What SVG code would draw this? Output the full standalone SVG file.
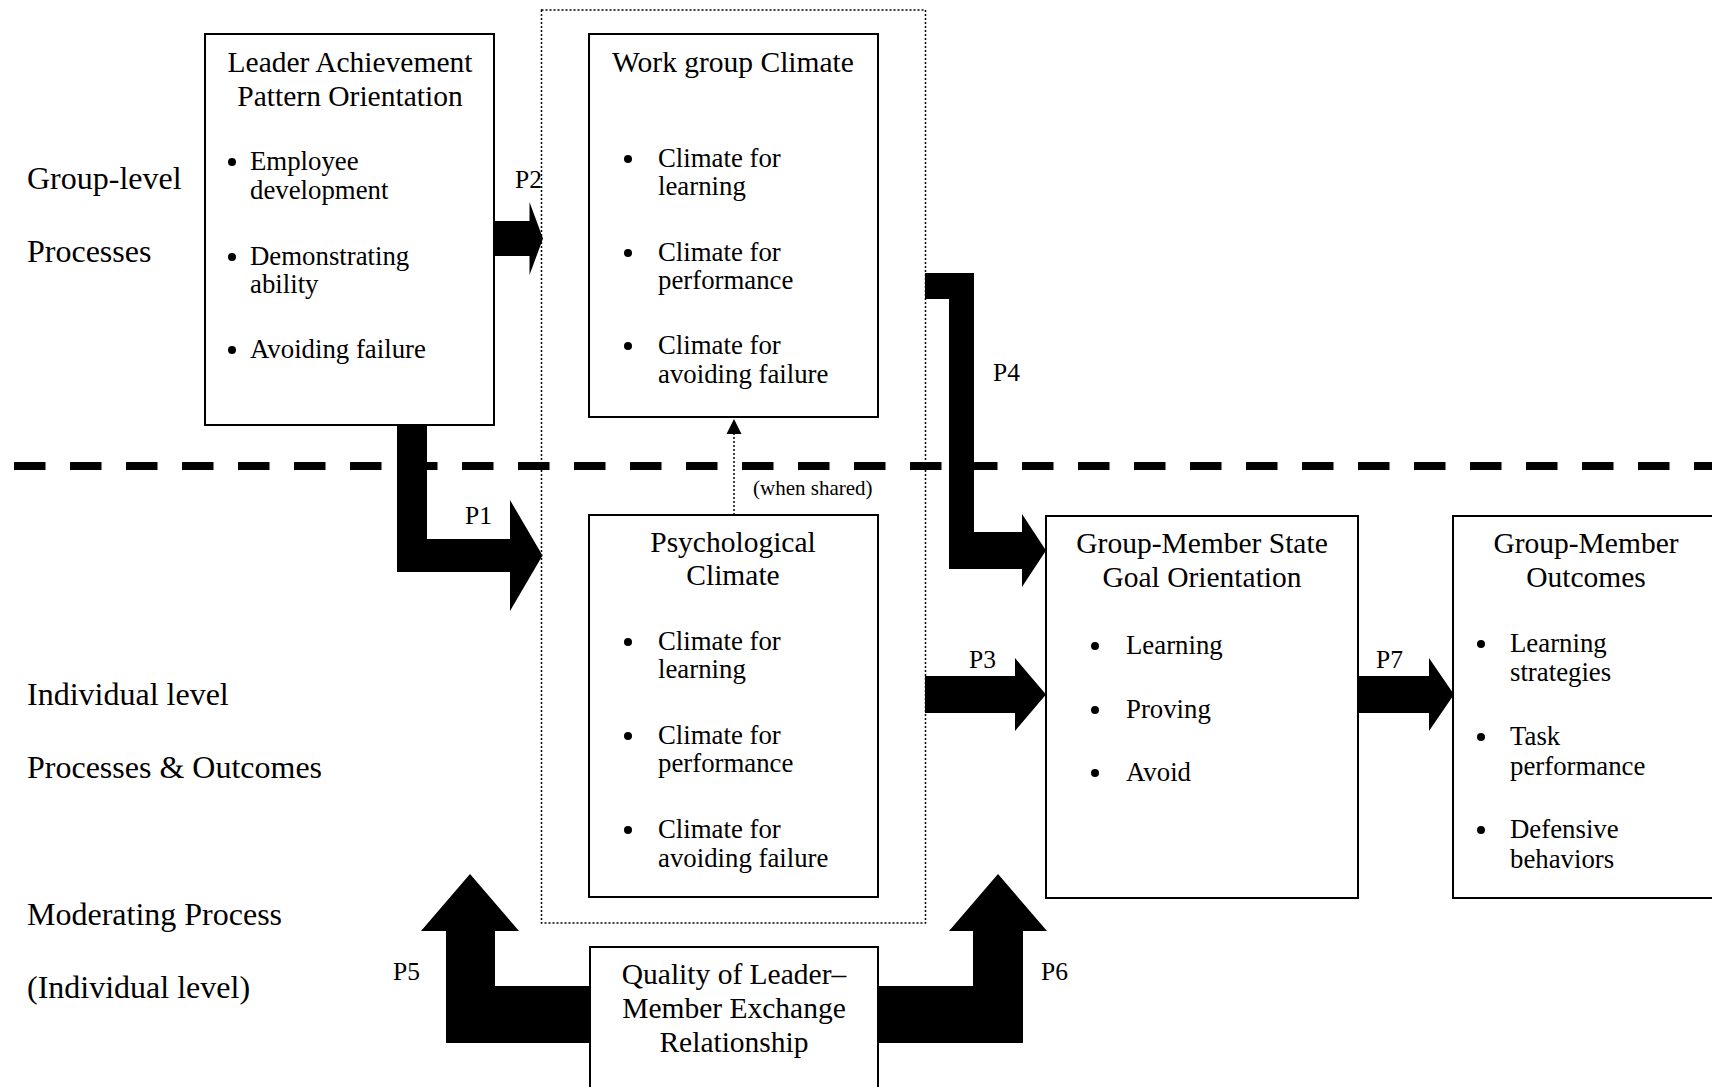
<svg xmlns="http://www.w3.org/2000/svg" width="1712" height="1087" viewBox="0 0 1712 1087">
<style>
text{font-family:"Liberation Serif","Times New Roman",serif;fill:#000}
.t{font-size:29.5px;text-anchor:middle}
.b{font-size:26.8px}
.side{font-size:32px}
.p{font-size:25.5px}
.box{fill:#fff;stroke:#000;stroke-width:2}
.arrow{fill:#000;stroke:none}
.dot{fill:#000}
</style>
<rect width="1712" height="1087" fill="#fff"/>
<g id="levels">
<rect x="541.5" y="10" width="384" height="913" fill="none" stroke="#000" stroke-width="1.5" stroke-dasharray="2 2"/>
<line x1="14" y1="466" x2="1712" y2="466" stroke="#000" stroke-width="8" stroke-dasharray="31.5 24.5"/>
<text class="side" x="27" y="189">Group-level</text>
<text class="side" x="27" y="262">Processes</text>
<text class="side" x="27" y="705">Individual level</text>
<text class="side" x="27" y="778">Processes &amp; Outcomes</text>
<text class="side" x="27" y="925">Moderating Process</text>
<text class="side" x="27" y="998">(Individual level)</text>
</g>
<g id="connectors">
<polygon class="arrow" points="494,221 529.5,221 529.5,202 543,238.5 529.5,275 529.5,256 494,256"/>
<polygon class="arrow" points="397,417 427,417 427,539 510,539 510,500 542.5,555.5 510,611 510,572 397,572"/>
<polygon class="arrow" points="925,273 974,273 974,532 1022,532 1022,514 1046,550.5 1022,587 1022,569 949,569 949,299 925,299"/>
<polygon class="arrow" points="925,676 1015,676 1015,658 1046,694.5 1015,731 1015,713 925,713"/>
<polygon class="arrow" points="1358,676 1429,676 1429,658 1454,694.5 1429,731 1429,713 1358,713"/>
<polygon class="arrow" points="590,986 495,986 495,931 519,931 470,874 421,931 446,931 446,1043 590,1043"/>
<polygon class="arrow" points="878,986 973,986 973,931 949,931 998,874 1047,931 1023,931 1023,1043 878,1043"/>
<line x1="734" y1="515" x2="734" y2="433" stroke="#000" stroke-width="1.5" stroke-dasharray="2 2"/>
<polygon class="arrow" points="734,419 726.5,434 741.5,434"/>
<text class="p" x="515" y="188">P2</text>
<text class="p" x="465" y="524">P1</text>
<text class="p" x="993" y="381">P4</text>
<text class="p" x="969" y="668">P3</text>
<text class="p" x="1376" y="668">P7</text>
<text class="p" x="393" y="980">P5</text>
<text class="p" x="1041" y="980">P6</text>
<text x="753" y="495" style="font-size:21px">(when shared)</text>
</g>
<g id="leader">
<rect class="box" x="205" y="34" width="289" height="391"/>
<text class="t" x="350" y="72">Leader Achievement</text>
<text class="t" x="350" y="106">Pattern Orientation</text>
<circle class="dot" cx="232" cy="162" r="4"/>
<text class="b" x="250" y="170">Employee</text>
<text class="b" x="250" y="199">development</text>
<circle class="dot" cx="232" cy="257" r="4"/>
<text class="b" x="250" y="265">Demonstrating</text>
<text class="b" x="250" y="293">ability</text>
<circle class="dot" cx="232" cy="350" r="4"/>
<text class="b" x="250" y="358">Avoiding failure</text>
</g>
<g id="workgroup">
<rect class="box" x="589" y="34" width="289" height="383"/>
<text class="t" x="733" y="72">Work group Climate</text>
<circle class="dot" cx="628" cy="159" r="4"/>
<text class="b" x="658" y="167">Climate for</text>
<text class="b" x="658" y="195">learning</text>
<circle class="dot" cx="628" cy="253" r="4"/>
<text class="b" x="658" y="261">Climate for</text>
<text class="b" x="658" y="289">performance</text>
<circle class="dot" cx="628" cy="346" r="4"/>
<text class="b" x="658" y="354">Climate for</text>
<text class="b" x="658" y="383">avoiding failure</text>
</g>
<g id="psych">
<rect class="box" x="589" y="515" width="289" height="382"/>
<text class="t" x="733" y="552">Psychological</text>
<text class="t" x="733" y="585">Climate</text>
<circle class="dot" cx="628" cy="642" r="4"/>
<text class="b" x="658" y="650">Climate for</text>
<text class="b" x="658" y="678">learning</text>
<circle class="dot" cx="628" cy="736" r="4"/>
<text class="b" x="658" y="744">Climate for</text>
<text class="b" x="658" y="772">performance</text>
<circle class="dot" cx="628" cy="830" r="4"/>
<text class="b" x="658" y="838">Climate for</text>
<text class="b" x="658" y="867">avoiding failure</text>
</g>
<g id="gmstate">
<rect class="box" x="1046" y="516" width="312" height="382"/>
<text class="t" x="1202" y="553">Group-Member State</text>
<text class="t" x="1202" y="587">Goal Orientation</text>
<circle class="dot" cx="1095" cy="646" r="4"/>
<text class="b" x="1126" y="654">Learning</text>
<circle class="dot" cx="1095" cy="710" r="4"/>
<text class="b" x="1126" y="718">Proving</text>
<circle class="dot" cx="1095" cy="773" r="4"/>
<text class="b" x="1126" y="781">Avoid</text>
</g>
<g id="outcomes">
<rect class="box" x="1453" y="516" width="300" height="382"/>
<text class="t" x="1586" y="553">Group-Member</text>
<text class="t" x="1586" y="587">Outcomes</text>
<circle class="dot" cx="1481" cy="644" r="4"/>
<text class="b" x="1510" y="652">Learning</text>
<text class="b" x="1510" y="681">strategies</text>
<circle class="dot" cx="1481" cy="737" r="4"/>
<text class="b" x="1510" y="745">Task</text>
<text class="b" x="1510" y="775">performance</text>
<circle class="dot" cx="1481" cy="830" r="4"/>
<text class="b" x="1510" y="838">Defensive</text>
<text class="b" x="1510" y="868">behaviors</text>
</g>
<g id="lmx">
<rect class="box" x="590" y="947" width="288" height="160"/>
<text class="t" x="734" y="984">Quality of Leader–</text>
<text class="t" x="734" y="1018">Member Exchange</text>
<text class="t" x="734" y="1052">Relationship</text>
</g>
</svg>
